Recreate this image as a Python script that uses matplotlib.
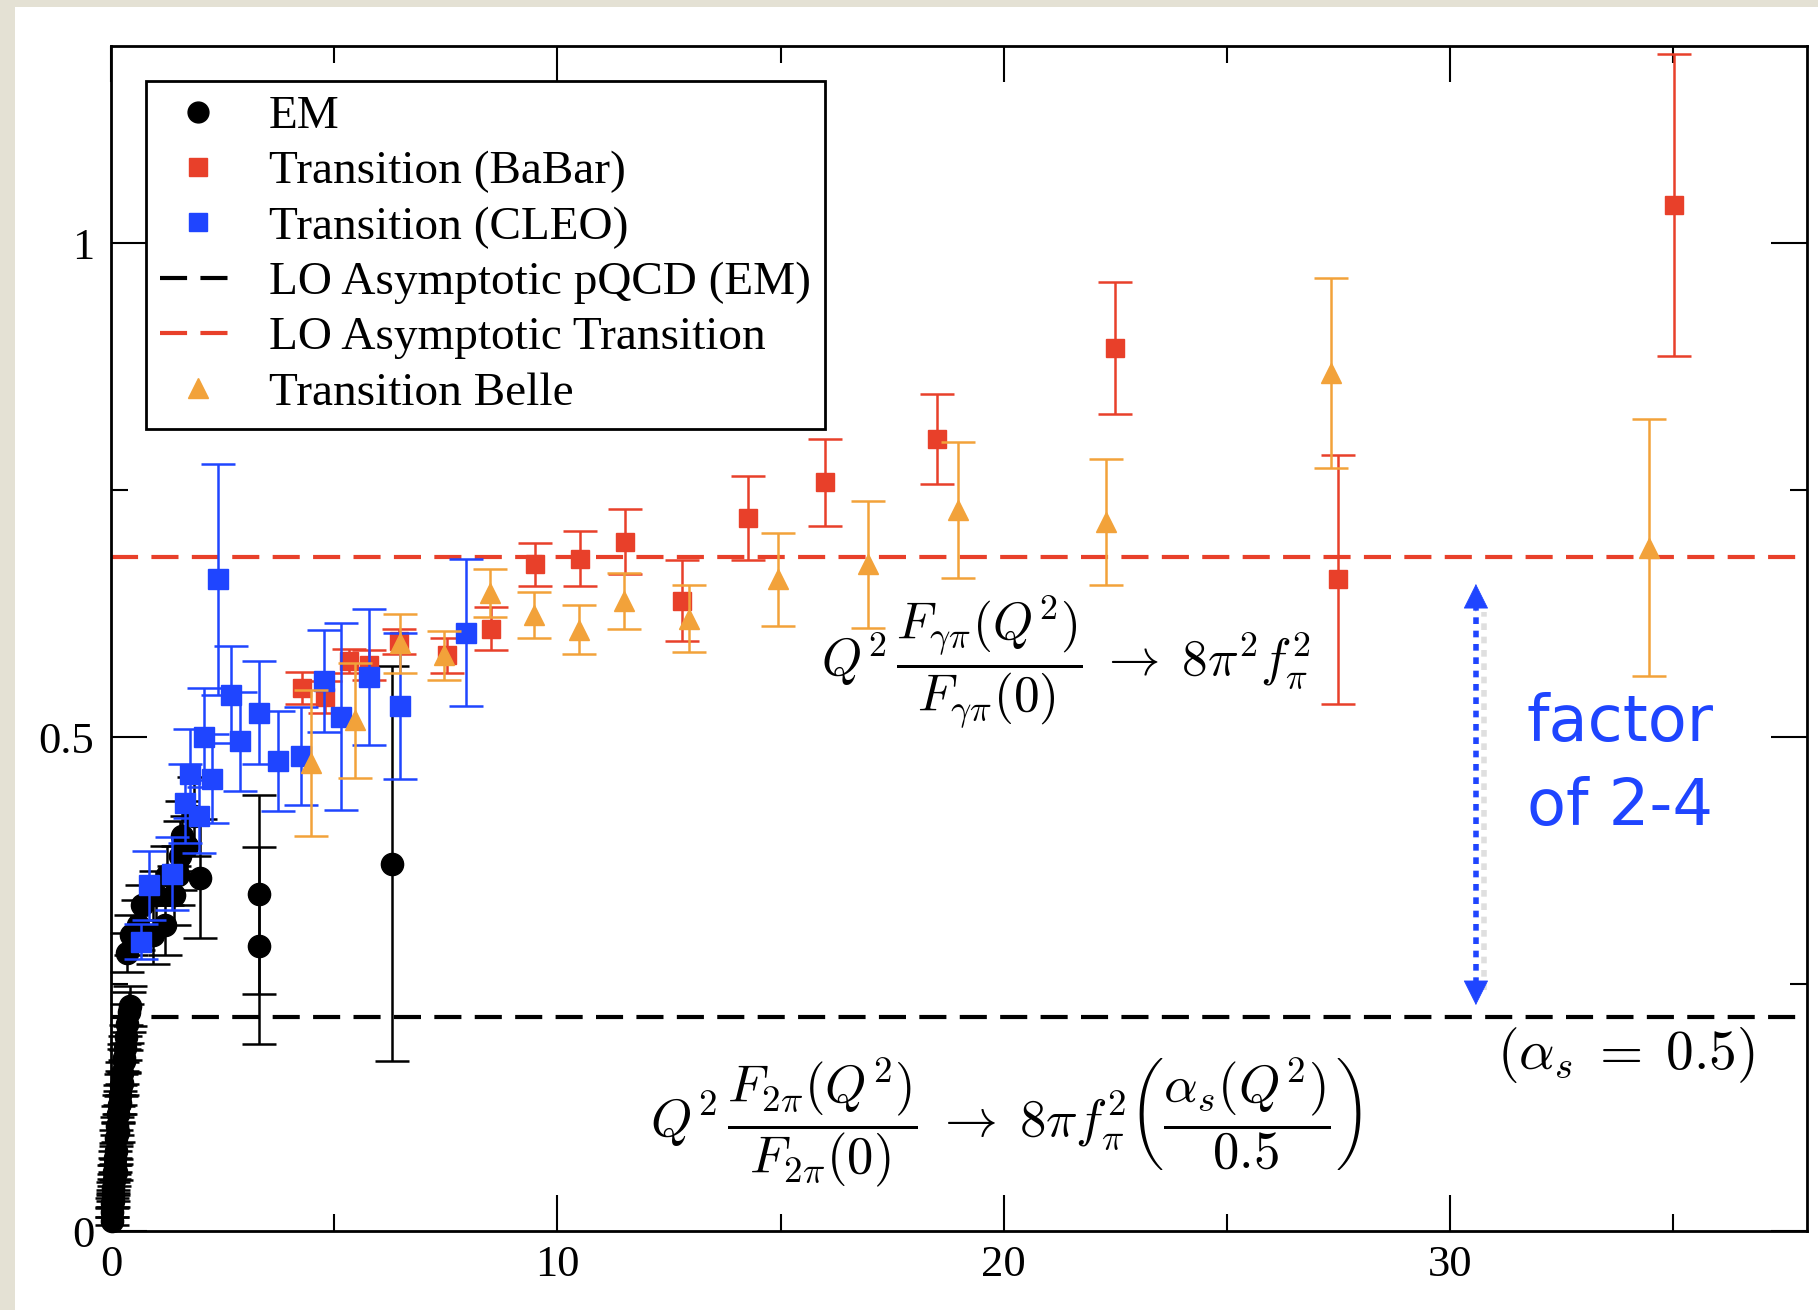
import matplotlib
matplotlib.use("Agg")
from matplotlib import pyplot as plt
from matplotlib.lines import Line2D
from matplotlib.patches import Rectangle
from matplotlib import patheffects

plt.rcParams['mathtext.fontset'] = 'cm'
plt.rcParams['font.family'] = ['Liberation Serif', 'DejaVu Serif']

# EM pion form factor (black)
em_x = [0.01, 0.02, 0.03, 0.04, 0.05, 0.06, 0.07, 0.08, 0.09, 0.10, 0.12, 0.14,
        0.16, 0.18, 0.20, 0.22, 0.25, 0.28, 0.31, 0.34, 0.36, 0.40, 0.42,
        0.05, 0.10, 0.15, 0.20, 0.25, 0.30,
        0.36, 0.45, 0.60, 0.70, 0.95, 1.00, 1.20, 1.25, 1.40, 1.50, 1.55, 1.60,
        1.70, 1.85, 2.00, 3.32, 3.32, 6.30]
em_y = [0.010, 0.019, 0.028, 0.036, 0.044, 0.052, 0.060, 0.067, 0.074, 0.081,
        0.094, 0.106, 0.118, 0.128, 0.138, 0.148, 0.160, 0.172, 0.185, 0.196,
        0.210, 0.222, 0.228,
        0.030, 0.060, 0.100, 0.130, 0.150, 0.175,
        0.282, 0.300, 0.310, 0.330, 0.300, 0.340, 0.310, 0.360, 0.340, 0.360,
        0.380, 0.400, 0.390, 0.420, 0.357, 0.341, 0.289, 0.372]
em_err = [0.004, 0.005, 0.005, 0.006, 0.006, 0.006, 0.007, 0.007, 0.007, 0.008,
          0.008, 0.009, 0.009, 0.010, 0.010, 0.011, 0.011, 0.012, 0.012, 0.013,
          0.020, 0.020, 0.020,
          0.006, 0.008, 0.010, 0.012, 0.012, 0.014,
          0.020, 0.020, 0.025, 0.020, 0.030, 0.025, 0.030, 0.030, 0.030, 0.030,
          0.035, 0.035, 0.030, 0.040, 0.060, 0.101, 0.100, 0.200]

# Transition form factor, BaBar (red)
babar_x = [4.28, 4.80, 5.32, 5.77, 6.45, 7.53, 8.52, 9.50, 10.50, 11.52, 12.79,
           14.27, 15.99, 18.51, 22.49, 27.48, 35.01]
babar_y = [0.550, 0.541, 0.577, 0.573, 0.597, 0.583, 0.610, 0.675, 0.681, 0.698,
           0.638, 0.722, 0.758, 0.802, 0.894, 0.660, 1.039]
babar_err = [0.016, 0.016, 0.012, 0.015, 0.013, 0.018, 0.022, 0.022, 0.028, 0.033,
             0.041, 0.043, 0.044, 0.046, 0.067, 0.126, 0.153]

# Transition form factor, CLEO (blue)
cleo_x = [0.67, 0.84, 1.36, 1.66, 1.77, 1.96, 2.09, 2.27, 2.39, 2.68, 2.89, 3.32,
          3.74, 4.25, 4.78, 5.16, 5.79, 6.48, 7.96]
cleo_y = [0.293, 0.350, 0.362, 0.433, 0.463, 0.420, 0.500, 0.458, 0.660, 0.543,
          0.496, 0.525, 0.476, 0.481, 0.557, 0.521, 0.561, 0.532, 0.606]
cleo_err = [0.018, 0.035, 0.037, 0.040, 0.045, 0.037, 0.050, 0.045, 0.117, 0.049,
            0.050, 0.052, 0.051, 0.050, 0.052, 0.095, 0.069, 0.074, 0.074]

# Transition form factor, Belle (orange)
belle_x = [4.47, 5.47, 6.47, 7.47, 8.48, 9.48, 10.48, 11.49, 12.94, 14.95, 16.96,
           18.97, 22.29, 27.33, 34.46]
belle_y = [0.474, 0.517, 0.595, 0.583, 0.646, 0.624, 0.609, 0.638, 0.620, 0.660,
           0.675, 0.730, 0.718, 0.869, 0.692]
belle_err = [0.074, 0.058, 0.030, 0.025, 0.024, 0.023, 0.025, 0.028, 0.034, 0.047,
             0.064, 0.069, 0.064, 0.096, 0.130]

lo_em = 0.217
lo_transition = 0.683

black = 'black'
red = '#e8402a'
blue = '#1f45ff'
orange = '#f2a23a'
dash = (0, (6.5, 3.2))

fig = plt.figure(figsize=(18.18, 13.10), dpi=100)
fig.patch.set_facecolor('#e4e1d4')
fig.add_artist(Rectangle((15 / 1818, 0), 1, 1 - 7 / 1310, transform=fig.transFigure,
                         facecolor='white', edgecolor='none', zorder=0))
ax = fig.add_axes([0.0611, 0.0603, 0.9329, 0.9046])

ax.axhline(lo_em, color=black, ls=dash, lw=3, zorder=1)
ax.axhline(lo_transition, color=red, ls=dash, lw=3, zorder=1)

eb = dict(ls='none', capsize=12, elinewidth=1.8, capthick=1.8)
ax.errorbar(em_x, em_y, yerr=em_err, fmt='o', color=black, ms=16, zorder=2,
            clip_on=False, **eb)
ax.errorbar(babar_x, babar_y, yerr=babar_err, fmt='s', color=red, ms=13, zorder=3, **eb)
ax.errorbar(cleo_x, cleo_y, yerr=cleo_err, fmt='s', color=blue, ms=14, zorder=4, **eb)
ax.errorbar(belle_x, belle_y, yerr=belle_err, fmt='^', color=orange, ms=15, zorder=5, **eb)

ax.set_xlim(0, 38)
ax.set_ylim(0, 1.2)
ax.set_xticks([0, 10, 20, 30])
ax.set_xticks([5, 15, 25, 35], minor=True)
ax.set_yticks([0, 0.5, 1])
ax.set_yticklabels(['0', '0.5', '1'])
ax.set_yticks([0.25, 0.75], minor=True)
ax.tick_params(which='both', direction='in', top=True, right=True, width=1.5,
               labelsize=32)
ax.tick_params(which='major', length=26)
ax.tick_params(which='minor', length=12)
ax.tick_params(axis='x', pad=10)
ax.tick_params(axis='y', pad=12)
for s in ax.spines.values():
    s.set_linewidth(2)

handles = [
    Line2D([], [], marker='o', ls='none', color=black, ms=15),
    Line2D([], [], marker='s', ls='none', color=red, ms=13),
    Line2D([], [], marker='s', ls='none', color=blue, ms=13),
    Line2D([], [], color=black, ls=dash, lw=3),
    Line2D([], [], color=red, ls=dash, lw=3),
    Line2D([], [], marker='^', ls='none', color=orange, ms=15),
]
labels = ['EM', 'Transition (BaBar)', 'Transition (CLEO)', 'LO Asymptotic pQCD (EM)',
          'LO Asymptotic Transition', 'Transition Belle']
leg = ax.legend(handles, labels, loc='upper left', bbox_to_anchor=(0.0206, 0.9705),
                borderaxespad=0, fontsize=34, fancybox=False, edgecolor='black',
                framealpha=1, handlelength=1.6, handletextpad=0.7, labelspacing=0.26,
                borderpad=0.3)
leg.get_frame().set_linewidth(2)
leg.set_zorder(7)

ax.text(21.4, 0.577, r'$Q^2\,\dfrac{F_{\gamma\pi}(Q^2)}{F_{\gamma\pi}(0)}\;\rightarrow\;8\pi^2 f_\pi^2$',
        fontsize=37, ha='center', va='center', zorder=6)
ax.text(20.05, 0.110,
        r'$Q^2\,\dfrac{F_{2\pi}(Q^2)}{F_{2\pi}(0)}\;\rightarrow\;8\pi f_\pi^2\left(\dfrac{\alpha_s(Q^2)}{0.5}\right)$',
        fontsize=38, ha='center', va='center', zorder=6)
ax.text(33.95, 0.178, r'$(\alpha_s\;=\;0.5)$', fontsize=40, ha='center', va='center', zorder=6)

# dotted double arrow
shadow = [patheffects.SimpleLineShadow(offset=(6, -4), shadow_color='gray', alpha=0.25),
          patheffects.Normal()]
ax.plot([30.58, 30.58], [0.25, 0.632], color=blue, ls=(0, (1.2, 1.2)), lw=4,
        zorder=6, path_effects=shadow)
ax.annotate('', xy=(30.58, 0.658), xytext=(30.58, 0.625),
            arrowprops=dict(arrowstyle='-|>', color=blue, lw=0.5, mutation_scale=42),
            zorder=6)
ax.annotate('', xy=(30.58, 0.226), xytext=(30.58, 0.259),
            arrowprops=dict(arrowstyle='-|>', color=blue, lw=0.5, mutation_scale=42),
            zorder=6)
ax.text(33.8, 0.472, 'factor\nof 2-4', color=blue, fontsize=46, ha='center',
        va='center', family=['DejaVu Sans'], linespacing=1.45, zorder=6)

plt.savefig('out.png', dpi=100, facecolor=fig.get_facecolor())
